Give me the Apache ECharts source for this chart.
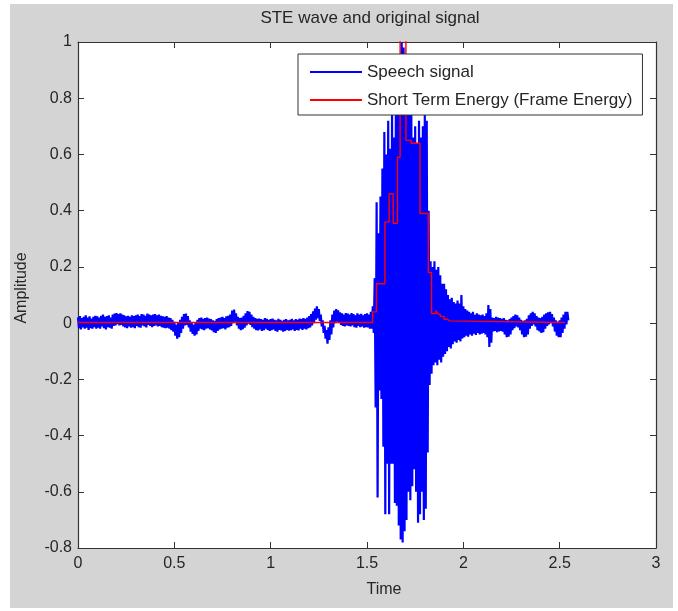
<!DOCTYPE html>
<html>
<head>
<meta charset="utf-8">
<script src="https://cdn.jsdelivr.net/npm/echarts@6/dist/echarts.min.js"></script>
<style>
  html, body { margin: 0; padding: 0; background: #fff; }
  #chart { width: 678px; height: 611px; }
</style>
</head>
<body>
<div id="chart"></div>
<script>
// speech signal, read as upper / lower envelope every 10 ms
const DT = 0.01;
const speechHi = [
  0.02,0.025,0.018,0.022,0.028,0.02,0.024,0.016,0.022,0.026,
  0.024,0.02,0.026,0.03,0.022,0.025,0.028,0.02,0.03,0.034,
  0.036,0.032,0.035,0.03,0.028,0.024,0.026,0.022,0.028,0.025,
  0.028,0.03,0.025,0.032,0.03,0.026,0.034,0.03,0.028,0.03,
  0.032,0.028,0.03,0.026,0.024,0.022,0.025,0.02,0.018,0.012,
  0.005,-0.005,0.0,0.012,0.022,0.032,0.034,0.025,0.01,0.0,
  -0.005,0.002,0.012,0.018,0.02,0.015,0.018,0.02,0.016,0.014,
  0.01,0.008,0.014,0.018,0.02,0.022,0.018,0.024,0.026,0.03,
  0.045,0.048,0.035,0.022,0.018,0.02,0.026,0.035,0.043,0.04,
  0.03,0.022,0.018,0.015,0.016,0.014,0.012,0.018,0.015,0.012,
  0.014,0.016,0.012,0.01,0.015,0.012,0.008,0.012,0.014,0.01,
  0.012,0.015,0.01,0.014,0.012,0.016,0.014,0.018,0.015,0.02,
  0.025,0.032,0.042,0.052,0.06,0.05,0.03,0.01,-0.01,-0.025,
  -0.015,0.01,0.03,0.045,0.05,0.045,0.038,0.035,0.03,0.036,
  0.034,0.03,0.036,0.032,0.028,0.035,0.03,0.033,0.028,0.032,
  0.035,0.03,0.04,0.06,0.16,0.43,0.32,0.45,0.55,0.68,
  0.6,0.72,0.62,0.75,0.66,0.82,0.95,0.9,1.0,0.98,
  0.95,0.85,0.8,0.75,0.66,0.7,0.64,0.72,0.66,0.7,
  0.74,0.72,0.4,0.22,0.2,0.22,0.19,0.2,0.17,0.14,
  0.14,0.12,0.1,0.085,0.09,0.075,0.07,0.08,0.07,0.1,
  0.06,0.05,0.045,0.04,0.035,0.04,0.03,0.035,0.03,0.028,
  0.03,0.025,0.035,0.064,0.05,0.02,0.018,0.022,0.02,0.018,
  0.015,0.018,0.012,0.01,0.014,0.02,0.025,0.03,0.028,0.02,
  0.012,0.008,0.01,0.015,0.028,0.035,0.04,0.035,0.025,0.02,
  0.018,0.022,0.03,0.035,0.038,0.04,0.032,0.02,0.01,0.005,
  0.01,0.02,0.03,0.04,0.04
];
const speechLo = [
  -0.018,-0.022,-0.015,-0.02,-0.016,-0.024,-0.018,-0.02,-0.014,-0.02,
  -0.016,-0.02,-0.012,-0.018,-0.022,-0.014,-0.016,-0.02,-0.01,-0.008,
  -0.004,-0.008,-0.006,-0.012,-0.015,-0.018,-0.012,-0.016,-0.014,-0.018,
  -0.01,-0.014,-0.016,-0.008,-0.012,-0.015,-0.006,-0.01,-0.014,-0.01,
  -0.008,-0.012,-0.01,-0.014,-0.016,-0.018,-0.016,-0.02,-0.025,-0.03,
  -0.045,-0.055,-0.05,-0.035,-0.02,-0.008,-0.006,-0.015,-0.03,-0.038,
  -0.045,-0.04,-0.028,-0.02,-0.022,-0.025,-0.02,-0.018,-0.022,-0.026,
  -0.032,-0.035,-0.028,-0.022,-0.02,-0.018,-0.022,-0.016,-0.014,-0.01,
  0.0,0.005,-0.008,-0.02,-0.025,-0.022,-0.016,-0.008,-0.002,-0.006,
  -0.014,-0.02,-0.025,-0.026,-0.022,-0.028,-0.025,-0.02,-0.024,-0.028,
  -0.025,-0.022,-0.028,-0.03,-0.024,-0.026,-0.03,-0.028,-0.024,-0.027,
  -0.025,-0.022,-0.028,-0.024,-0.026,-0.02,-0.024,-0.02,-0.022,-0.018,
  -0.015,-0.008,0.0,0.012,0.018,0.008,-0.012,-0.035,-0.055,-0.073,
  -0.06,-0.04,-0.015,0.0,0.005,0.002,-0.006,-0.01,-0.012,-0.008,
  -0.01,-0.012,-0.008,-0.014,-0.016,-0.01,-0.014,-0.012,-0.016,-0.014,
  -0.015,-0.02,-0.02,-0.035,-0.3,-0.62,-0.24,-0.27,-0.44,-0.68,
  -0.5,-0.68,-0.5,-0.5,-0.64,-0.65,-0.72,-0.77,-0.78,-0.74,
  -0.7,-0.6,-0.63,-0.58,-0.52,-0.6,-0.71,-0.68,-0.6,-0.7,
  -0.66,-0.46,-0.22,-0.18,-0.15,-0.14,-0.15,-0.13,-0.14,-0.12,
  -0.11,-0.1,-0.085,-0.09,-0.075,-0.065,-0.07,-0.06,-0.065,-0.055,
  -0.05,-0.045,-0.048,-0.04,-0.045,-0.038,-0.042,-0.035,-0.04,-0.038,
  -0.035,-0.04,-0.05,-0.085,-0.07,-0.03,-0.028,-0.032,-0.03,-0.028,
  -0.03,-0.04,-0.05,-0.048,-0.04,-0.025,-0.018,-0.012,-0.015,-0.025,
  -0.04,-0.05,-0.048,-0.04,-0.02,-0.01,-0.005,-0.012,-0.025,-0.03,
  -0.035,-0.032,-0.02,-0.01,-0.005,0.0,-0.012,-0.03,-0.045,-0.05,
  -0.05,-0.035,-0.02,-0.005,0.01
];

// short term energy, one level per frame (frame start time)
const steTime  = [0, 1.529, 1.549, 1.593, 1.615, 1.636, 1.658, 1.672, 1.702, 1.729, 1.775, 1.818, 1.835, 1.858, 1.868, 1.88, 1.9, 1.915, 1.93, 2.527];
const steValue = [0.002, 0.04, 0.14, 0.36, 0.46, 0.355, 0.59, 1.08, 0.65, 0.64, 0.39, 0.18, 0.034, 0.045, 0.032, 0.024, 0.014, 0.008, 0.002, 0.002];

const seriesNames = ['Speech signal', 'Short Term Energy (Frame Energy)'];

var speechData = [];
for (var i = 0; i < speechHi.length; i++) {
  speechData.push([i * DT, speechHi[i]]);
  speechData.push([i * DT + DT / 2, speechLo[i]]);
}
var steData = steTime.map(function (t, i) { return [t, steValue[i]]; });

var font = 'Liberation Sans, Arial, sans-serif';
var txt = '#262626';

function fmt(v) { return String(+v.toFixed(1)); }

var chart = echarts.init(document.getElementById('chart'));
chart.setOption({
  animation: false,
  backgroundColor: '#fff',
  textStyle: { fontFamily: font },
  title: {
    text: 'STE wave and original signal',
    left: 365,
    textAlign: 'center',
    top: 5,
    textStyle: { fontSize: 17, fontWeight: 'normal', color: txt, fontFamily: font }
  },
  graphic: [
    { type: 'rect', z: -100, shape: { x: 10, y: 4, width: 663, height: 604 }, style: { fill: '#d4d4d4' } },
    { type: 'text', x: 384, y: 590, style: { text: 'Time', fill: txt, font: '16px ' + font, textAlign: 'center', textVerticalAlign: 'middle' } },
    { type: 'text', x: 22, y: 288, rotation: Math.PI / 2, style: { text: 'Amplitude', fill: txt, font: '16px ' + font, textAlign: 'center', textVerticalAlign: 'middle' } }
  ],
  legend: {
    data: seriesNames,
    orient: 'vertical',
    left: 298,
    top: 54,
    padding: [8, 10, 5, 12],
    itemGap: 8,
    itemWidth: 52,
    itemHeight: 2,
    icon: 'rect',
    backgroundColor: '#fff',
    borderColor: '#333',
    borderWidth: 1,
    borderRadius: 0,
    textStyle: { fontSize: 17, lineHeight: 20, color: txt, fontFamily: font }
  },
  grid: {
    left: 78, top: 42, width: 578, height: 506,
    show: true, backgroundColor: '#fff', borderWidth: 0
  },
  xAxis: [
    {
      type: 'value', min: 0, max: 3, interval: 0.5, position: 'bottom',
      axisLine: { show: true, onZero: false, lineStyle: { color: '#333', width: 1.2 } },
      axisTick: { show: true, inside: true, length: 6, lineStyle: { color: '#333' } },
      axisLabel: { fontSize: 16, color: txt, margin: 8, formatter: fmt, fontFamily: font },
      splitLine: { show: false }
    },
    {
      type: 'value', min: 0, max: 3, interval: 0.5, position: 'top',
      axisLine: { show: true, onZero: false, lineStyle: { color: '#333', width: 1.2 } },
      axisTick: { show: true, inside: true, length: 6, lineStyle: { color: '#333' } },
      axisLabel: { show: false },
      splitLine: { show: false }
    }
  ],
  yAxis: [
    {
      type: 'value', min: -0.8, max: 1, interval: 0.2, position: 'left',
      axisLine: { show: true, onZero: false, lineStyle: { color: '#333', width: 1.2 } },
      axisTick: { show: true, inside: true, length: 6, lineStyle: { color: '#333' } },
      axisLabel: { fontSize: 16, color: txt, margin: 6, formatter: fmt, fontFamily: font },
      splitLine: { show: false }
    },
    {
      type: 'value', min: -0.8, max: 1, interval: 0.2, position: 'right',
      axisLine: { show: true, onZero: false, lineStyle: { color: '#333', width: 1.2 } },
      axisTick: { show: true, inside: true, length: 6, lineStyle: { color: '#333' } },
      axisLabel: { show: false },
      splitLine: { show: false }
    }
  ],
  series: [
    {
      name: seriesNames[0],
      type: 'line',
      data: speechData,
      symbol: 'none',
      sampling: 'none',
      color: '#0000ff',
      lineStyle: { color: '#0000ff', width: 2.2 },
      z: 2
    },
    {
      name: seriesNames[1],
      type: 'line',
      data: steData,
      step: 'end',
      symbol: 'none',
      color: '#ff0000',
      lineStyle: { color: '#ff0000', width: 1.4 },
      z: 3
    }
  ]
});
</script>
</body>
</html>
